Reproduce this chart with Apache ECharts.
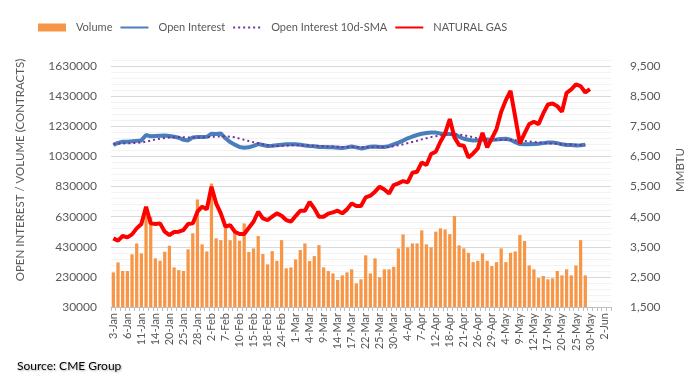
<!DOCTYPE html>
<html><head><meta charset="utf-8">
<script src="https://cdn.jsdelivr.net/npm/echarts@6/dist/echarts.min.js"></script>
<style>html,body{margin:0;padding:0;background:#fff}#c{width:696px;height:385px}</style>
</head><body><div id="c"></div>
<script>
const categories = ['3-Jan','4-Jan','5-Jan','6-Jan','7-Jan','10-Jan','11-Jan','12-Jan','13-Jan','14-Jan','18-Jan','19-Jan','20-Jan','21-Jan','24-Jan','25-Jan','26-Jan','27-Jan','28-Jan','31-Jan',
'1-Feb','2-Feb','3-Feb','4-Feb','7-Feb','8-Feb','9-Feb','10-Feb','11-Feb','14-Feb','15-Feb','16-Feb','17-Feb','18-Feb','22-Feb','23-Feb','24-Feb','25-Feb','28-Feb',
'1-Mar','2-Mar','3-Mar','4-Mar','7-Mar','8-Mar','9-Mar','10-Mar','11-Mar','14-Mar','15-Mar','16-Mar','17-Mar','18-Mar','21-Mar','22-Mar','23-Mar','24-Mar','25-Mar','28-Mar','29-Mar','30-Mar','31-Mar',
'1-Apr','4-Apr','5-Apr','6-Apr','7-Apr','8-Apr','11-Apr','12-Apr','13-Apr','14-Apr','18-Apr','19-Apr','20-Apr','21-Apr','22-Apr','25-Apr','26-Apr','27-Apr','28-Apr','29-Apr',
'2-May','3-May','4-May','5-May','6-May','9-May','10-May','11-May','12-May','13-May','16-May','17-May','18-May','19-May','20-May','23-May','24-May','25-May','26-May','27-May','30-May','31-May',
'1-Jun','2-Jun','3-Jun'];

const volume = [260000,326000,269000,269000,380000,452000,386000,640000,629000,353000,
337000,397000,437000,293000,275000,269000,413000,519000,744000,446000,
399000,850000,486000,474000,556000,474000,530000,470000,585000,395000,
419000,501000,382000,313000,401000,337000,474000,287000,293000,346000,
408000,452000,335000,368000,441000,293000,269000,253000,209000,240000,
260000,280000,187000,214000,373000,253000,353000,227000,280000,280000,
297000,419000,512000,426000,452000,452000,539000,446000,426000,530000,
552000,545000,514000,634000,439000,419000,390000,328000,337000,386000,
337000,302000,328000,419000,328000,390000,399000,508000,468000,306000,
280000,222000,236000,214000,220000,269000,240000,280000,240000,306000,
474000,240000];

const openInterest = [1107000,1120000,1127000,1128000,1130000,1133000,1136000,1172000,1163000,1165000,
1167000,1169000,1165000,1160000,1154000,1140000,1136000,1156000,1158000,1158000,
1160000,1180000,1178000,1182000,1150000,1125000,1108000,1092000,1087000,1090000,
1100000,1112000,1106000,1099000,1100000,1104000,1108000,1110000,1110000,1111000,
1107000,1103000,1099000,1097000,1093000,1092000,1091000,1090000,1088000,1085000,
1090000,1096000,1090000,1083000,1088000,1094000,1095000,1093000,1092000,1098000,
1110000,1122000,1135000,1150000,1162000,1172000,1180000,1185000,1189000,1188000,
1182000,1180000,1178000,1176000,1160000,1147000,1140000,1136000,1137000,1141000,
1142000,1141000,1142000,1145000,1147000,1140000,1125000,1112000,1110000,1110000,
1112000,1114000,1118000,1122000,1123000,1118000,1110000,1106000,1105000,1103000,
1104000,1107000];

const openInterestSma = [1112000,1114000,1116000,1117000,1118000,1120000,1122000,1128000,1135000,1142000,
1148000,1152000,1155000,1157000,1158000,1157000,1156000,1155000,1155000,1156000,
1157000,1159000,1161000,1163000,1163000,1161000,1157000,1148000,1140000,1132000,
1124000,1117000,1110000,1104000,1100000,1099000,1100000,1101000,1103000,1104000,
1104000,1103000,1103000,1101000,1099000,1097000,1096000,1095000,1094000,1093000,
1092000,1092000,1091000,1091000,1091000,1091000,1092000,1092000,1092000,1094000,
1098000,1104000,1110000,1118000,1126000,1134000,1143000,1151000,1158000,1164000,
1169000,1173000,1176000,1176000,1174000,1170000,1164000,1157000,1150000,1145000,
1142000,1141000,1141000,1141000,1140000,1139000,1137000,1135000,1132000,1129000,
1126000,1123000,1120000,1117000,1115000,1113000,1111000,1109000,1108000,1107000,
1106000,1105000];

const naturalGas = [3778,3701,3856,3812,3911,4110,4254,4829,4276,4254,
4276,4000,3889,3989,4000,4055,4254,4276,4663,4829,
4741,5493,4940,4608,4165,4221,4000,3922,3922,4132,
4331,4663,4442,4387,4497,4608,4530,4387,4331,4519,
4696,4696,4984,4774,4497,4497,4600,4641,4696,4608,
4741,4940,4851,4851,5139,5194,5327,5493,5404,5271,
5548,5603,5681,5636,5957,5990,6300,6212,6577,6654,
6986,7262,7738,7130,6875,6853,6466,6599,6765,7284,
6798,7096,7406,7981,8368,8678,7815,6930,7262,7572,
7649,7572,7926,8224,8258,8169,7981,8612,8722,8888,
8833,8623,8733];

const leftTicks = [30000,230000,430000,630000,830000,1030000,1230000,1430000,1630000];
const rightTicks = [1500,2500,3500,4500,5500,6500,7500,8500,9500];

const FONT = "Lato, 'Liberation Sans', sans-serif";
const GREY = '#595959';

const chart = echarts.init(document.getElementById('c'), null, {renderer: 'canvas'});
chart.setOption({
  animation: false,
  backgroundColor: '#ffffff',
  textStyle: {fontFamily: FONT},
  grid: {left: 111, right: 85, top: 60, bottom: 78},
  legend: {
    left: 38, top: 22, padding: 0, itemWidth: 28, itemHeight: 8, itemGap: 7,
    textStyle: {color: GREY, fontSize: 11, fontFamily: FONT, padding: [0, 0, 0, 5]},
    data: [
      {name: 'Volume', icon: 'rect'},
      {name: 'Open Interest', itemStyle: {opacity: 0}},
      {name: 'Open Interest 10d-SMA', itemStyle: {opacity: 0}},
      {name: 'NATURAL GAS', itemStyle: {opacity: 0}}
    ]
  },
  xAxis: {
    type: 'category', data: categories, boundaryGap: true,
    axisLine: {lineStyle: {color: '#bfbfbf'}},
    axisTick: {show: true, interval: 0, length: 4, lineStyle: {color: '#bfbfbf'}},
    axisLabel: {interval: 2, rotate: 90, fontSize: 11, color: GREY, fontFamily: FONT, margin: 6}
  },
  yAxis: [
    {type: 'value', min: 30000, max: 1670000, position: 'left',
      axisLabel: {customValues: leftTicks, fontSize: 12, color: GREY, fontFamily: FONT, margin: 14,
        formatter: v => String(v)},
      axisLine: {show: false}, axisTick: {show: false}, splitLine: {show: false}},
    {type: 'value', min: 1500, max: 9700, position: 'right',
      axisLabel: {customValues: rightTicks, fontSize: 12, color: GREY, fontFamily: FONT, margin: 19,
        formatter: v => v.toLocaleString('en-US')},
      axisLine: {show: false}, axisTick: {show: false}, splitLine: {show: false}},
    {type: 'value', min: 0, max: 1640000, interval: 40000, position: 'left',
      axisLabel: {show: false}, axisLine: {show: false}, axisTick: {show: false},
      splitLine: {show: true, lineStyle: {width: 1, color: ['#d9d9d9', '#f2f2f2', '#f2f2f2', '#f2f2f2', '#f2f2f2']}}}
  ],
  series: [
    {name: 'Volume', type: 'bar', yAxisIndex: 0, data: volume, barWidth: '70%',
      itemStyle: {color: '#F79646'}},
    {name: 'Open Interest', type: 'line', yAxisIndex: 0, data: openInterest, symbol: 'none',
      lineStyle: {color: '#4A7EBB', width: 4}, itemStyle: {color: '#4A7EBB'}},
    {name: 'Open Interest 10d-SMA', type: 'line', yAxisIndex: 0, data: openInterestSma, symbol: 'none',
      lineStyle: {color: '#7030A0', width: 2, type: [2, 3]}, itemStyle: {color: '#7030A0'}},
    {name: 'NATURAL GAS', type: 'line', yAxisIndex: 1, data: naturalGas, symbol: 'none',
      lineStyle: {color: '#FF0000', width: 4}, itemStyle: {color: '#FF0000'}}
  ],
  graphic: [
    {type: 'text', x: 20, y: 170, rotation: Math.PI / 2,
      style: {text: 'OPEN INTEREST / VOLUME (CONTRACTS)', fill: GREY, font: '11.5px ' + FONT, textAlign: 'center', textVerticalAlign: 'middle'}},
    {type: 'text', x: 680, y: 170, rotation: Math.PI / 2,
      style: {text: 'MMBTU', fill: GREY, font: '11.5px ' + FONT, textAlign: 'center', textVerticalAlign: 'middle'}},
    {type: 'text', x: 17, y: 366,
      style: {text: 'Source: CME Group', fill: '#000000', font: '12px ' + FONT, textAlign: 'left', textVerticalAlign: 'middle',
        textShadowColor: 'rgba(0,0,0,0.3)', textShadowBlur: 2, textShadowOffsetX: 1, textShadowOffsetY: 1}}
  ]
});
</script></body></html>
